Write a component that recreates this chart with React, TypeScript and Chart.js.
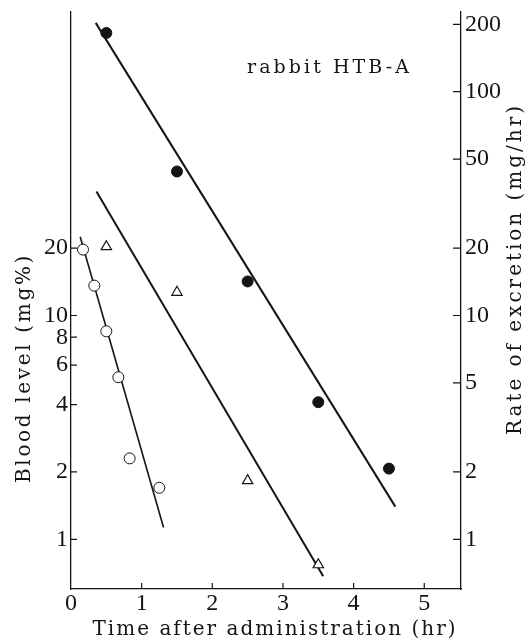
import React, { useEffect, useRef } from 'react';
import { Chart, registerables } from 'chart.js';

Chart.register(...registerables);

// ---- data ----
const bloodTime = [0.17, 0.33, 0.5, 0.67, 0.83, 1.25];
const bloodLevel = [19.7, 13.6, 8.5, 5.3, 2.3, 1.7];

const excTimeFilled = [0.5, 1.5, 2.5, 3.5, 4.5];
const excRateFilled = [183, 44, 14.2, 4.1, 2.07];

const excTimeOpen = [0.5, 1.5, 2.5, 3.5];
const excRateOpen = [20.3, 12.7, 1.83, 0.77];

const fitFilledTime = [0.35, 4.59];
const fitFilledRate = [203, 1.4];
const fitOpenTime = [0.36, 3.57];
const fitOpenRate = [35.8, 0.684];
const fitBloodTime = [0.13, 1.31];
const fitBloodLevel = [22.5, 1.13];

const xTickValues = [0, 1, 2, 3, 4, 5];
const leftTickValues = [1, 2, 4, 6, 8, 10, 20];
const rightTickValues = [1, 2, 5, 10, 20, 50, 100, 200];

const X_MIN = 0;
const X_MAX = 5.52;
const Y_MIN = 0.604;
const Y_MAX = 227;

const FONT = "'Liberation Serif', 'DejaVu Serif', serif";
const TITLE_FONT = "'DejaVu Serif', 'Liberation Serif', serif";
const INK = '#141414';

const pts = (xs: number[], ys: number[]) => xs.map((x, i) => ({ x, y: ys[i] }));

function drawSpaced(
  ctx: CanvasRenderingContext2D,
  text: string,
  cx: number,
  cy: number,
  targetWidth: number,
  rotate: number
) {
  ctx.save();
  (ctx as any).letterSpacing = '0px';
  const w = ctx.measureText(text).width;
  const ls = Math.max(0, (targetWidth - w) / text.length);
  (ctx as any).letterSpacing = ls + 'px';
  ctx.translate(cx, cy);
  ctx.rotate(rotate);
  ctx.textAlign = 'left';
  ctx.textBaseline = 'middle';
  const total = w + ls * text.length;
  ctx.fillText(text, -total / 2, 0);
  ctx.restore();
}

const decorPlugin = {
  id: 'decor',
  afterDraw(chart: any) {
    const ctx: CanvasRenderingContext2D = chart.ctx;
    const xs = chart.scales.x;
    const yl = chart.scales.yL;
    const yr = chart.scales.yR;
    const area = chart.chartArea;
    ctx.save();
    ctx.strokeStyle = INK;
    ctx.lineWidth = 1.2;
    ctx.beginPath();
    xTickValues.forEach((v) => {
      if (v === 0) return;
      const px = xs.getPixelForValue(v);
      ctx.moveTo(px, area.bottom);
      ctx.lineTo(px, area.bottom - 6);
    });
    leftTickValues.forEach((v) => {
      const py = yl.getPixelForValue(v);
      ctx.moveTo(area.left, py);
      ctx.lineTo(area.left + 6, py);
    });
    rightTickValues.forEach((v) => {
      const py = yr.getPixelForValue(v);
      ctx.moveTo(area.right, py);
      ctx.lineTo(area.right - 8, py);
    });
    ctx.stroke();

    ctx.fillStyle = INK;
    ctx.font = `20px ${TITLE_FONT}`;
    drawSpaced(ctx, 'Time after administration (hr)', 275, 630, 365, 0);
    drawSpaced(ctx, 'Blood level (mg%)', 25, 368, 230, -Math.PI / 2);
    drawSpaced(ctx, 'Rate of excretion (mg/hr)', 516, 269, 332, -Math.PI / 2);
    ctx.font = `19px ${TITLE_FONT}`;
    drawSpaced(ctx, 'rabbit HTB-A', 247 + 165 / 2, 68, 165, 0);
    ctx.restore();
  },
};

const tickFont = { family: FONT, size: 24 };

const fixY = (w: number) => (s: any) => {
  s.width = w;
  s.paddingTop = 0;
  s.paddingBottom = 0;
};

export default function App() {
  const ref = useRef<HTMLCanvasElement | null>(null);

  useEffect(() => {
    if (!ref.current) return;
    const chart = new Chart(ref.current, {
      type: 'scatter',
      data: {
        datasets: [
          {
            label: 'Blood level',
            data: pts(bloodTime, bloodLevel),
            yAxisID: 'yL',
            pointStyle: 'circle',
            pointRadius: 5.5,
            pointBackgroundColor: '#ffffff',
            pointBorderColor: INK,
            pointBorderWidth: 1,
            showLine: false,
          },
          {
            label: 'Excretion (filled)',
            data: pts(excTimeFilled, excRateFilled),
            yAxisID: 'yR',
            pointStyle: 'circle',
            pointRadius: 5.5,
            pointBackgroundColor: INK,
            pointBorderColor: INK,
            pointBorderWidth: 1,
            showLine: false,
          },
          {
            label: 'Excretion (open)',
            data: pts(excTimeOpen, excRateOpen),
            yAxisID: 'yR',
            pointStyle: 'triangle',
            pointRadius: 6,
            pointBackgroundColor: '#ffffff',
            pointBorderColor: INK,
            pointBorderWidth: 1.2,
            showLine: false,
          },
          {
            label: 'fit blood',
            data: pts(fitBloodTime, fitBloodLevel),
            yAxisID: 'yL',
            showLine: true,
            pointRadius: 0,
            borderColor: INK,
            borderWidth: 1.6,
          },
          {
            label: 'fit filled',
            data: pts(fitFilledTime, fitFilledRate),
            yAxisID: 'yR',
            showLine: true,
            pointRadius: 0,
            borderColor: INK,
            borderWidth: 2,
          },
          {
            label: 'fit open',
            data: pts(fitOpenTime, fitOpenRate),
            yAxisID: 'yR',
            showLine: true,
            pointRadius: 0,
            borderColor: INK,
            borderWidth: 2,
          },
        ],
      },
      options: {
        animation: false,
        responsive: false,
        layout: { padding: { top: 12, left: 0, right: 0, bottom: 0 } },
        plugins: {
          legend: { display: false },
          tooltip: { enabled: false },
          title: { display: false },
        },
        scales: {
          x: {
            type: 'linear',
            position: 'bottom',
            min: X_MIN,
            max: X_MAX,
            afterBuildTicks: (s: any) => {
              s.ticks = xTickValues.map((v) => ({ value: v }));
            },
            afterFit: (s: any) => {
              s.height = 53;
              s.paddingLeft = 0;
              s.paddingRight = 0;
            },
            grid: { display: false, drawTicks: false },
            border: { display: true, color: INK, width: 1.3 },
            ticks: {
              color: INK,
              font: tickFont,
              padding: 0,
              autoSkip: false,
              maxRotation: 0,
              callback: (v: any) => String(v),
            },
          },
          yL: {
            type: 'logarithmic',
            position: 'left',
            min: Y_MIN,
            max: Y_MAX,
            afterBuildTicks: (s: any) => {
              s.ticks = leftTickValues.map((v) => ({ value: v }));
            },
            afterFit: fixY(71),
            grid: { display: false, drawTicks: false },
            border: { display: true, color: INK, width: 1.3 },
            ticks: {
              color: INK,
              font: tickFont,
              padding: 3,
              autoSkip: false,
              callback: (v: any) => String(v),
            },
          },
          yR: {
            type: 'logarithmic',
            position: 'right',
            min: Y_MIN,
            max: Y_MAX,
            afterBuildTicks: (s: any) => {
              s.ticks = rightTickValues.map((v) => ({ value: v }));
            },
            afterFit: fixY(67),
            grid: { display: false, drawTicks: false },
            border: { display: true, color: INK, width: 1.3 },
            ticks: {
              color: INK,
              font: tickFont,
              padding: 4,
              autoSkip: false,
              callback: (v: any) => String(v),
            },
          },
        },
      },
      plugins: [decorPlugin],
    });
    return () => chart.destroy();
  }, []);

  return (
    <div style={{ position: 'fixed', left: 0, top: 0, width: 528, height: 642, background: '#fff' }}>
      <canvas ref={ref} width={528} height={642} style={{ width: 528, height: 642, display: 'block' }} />
    </div>
  );
}
